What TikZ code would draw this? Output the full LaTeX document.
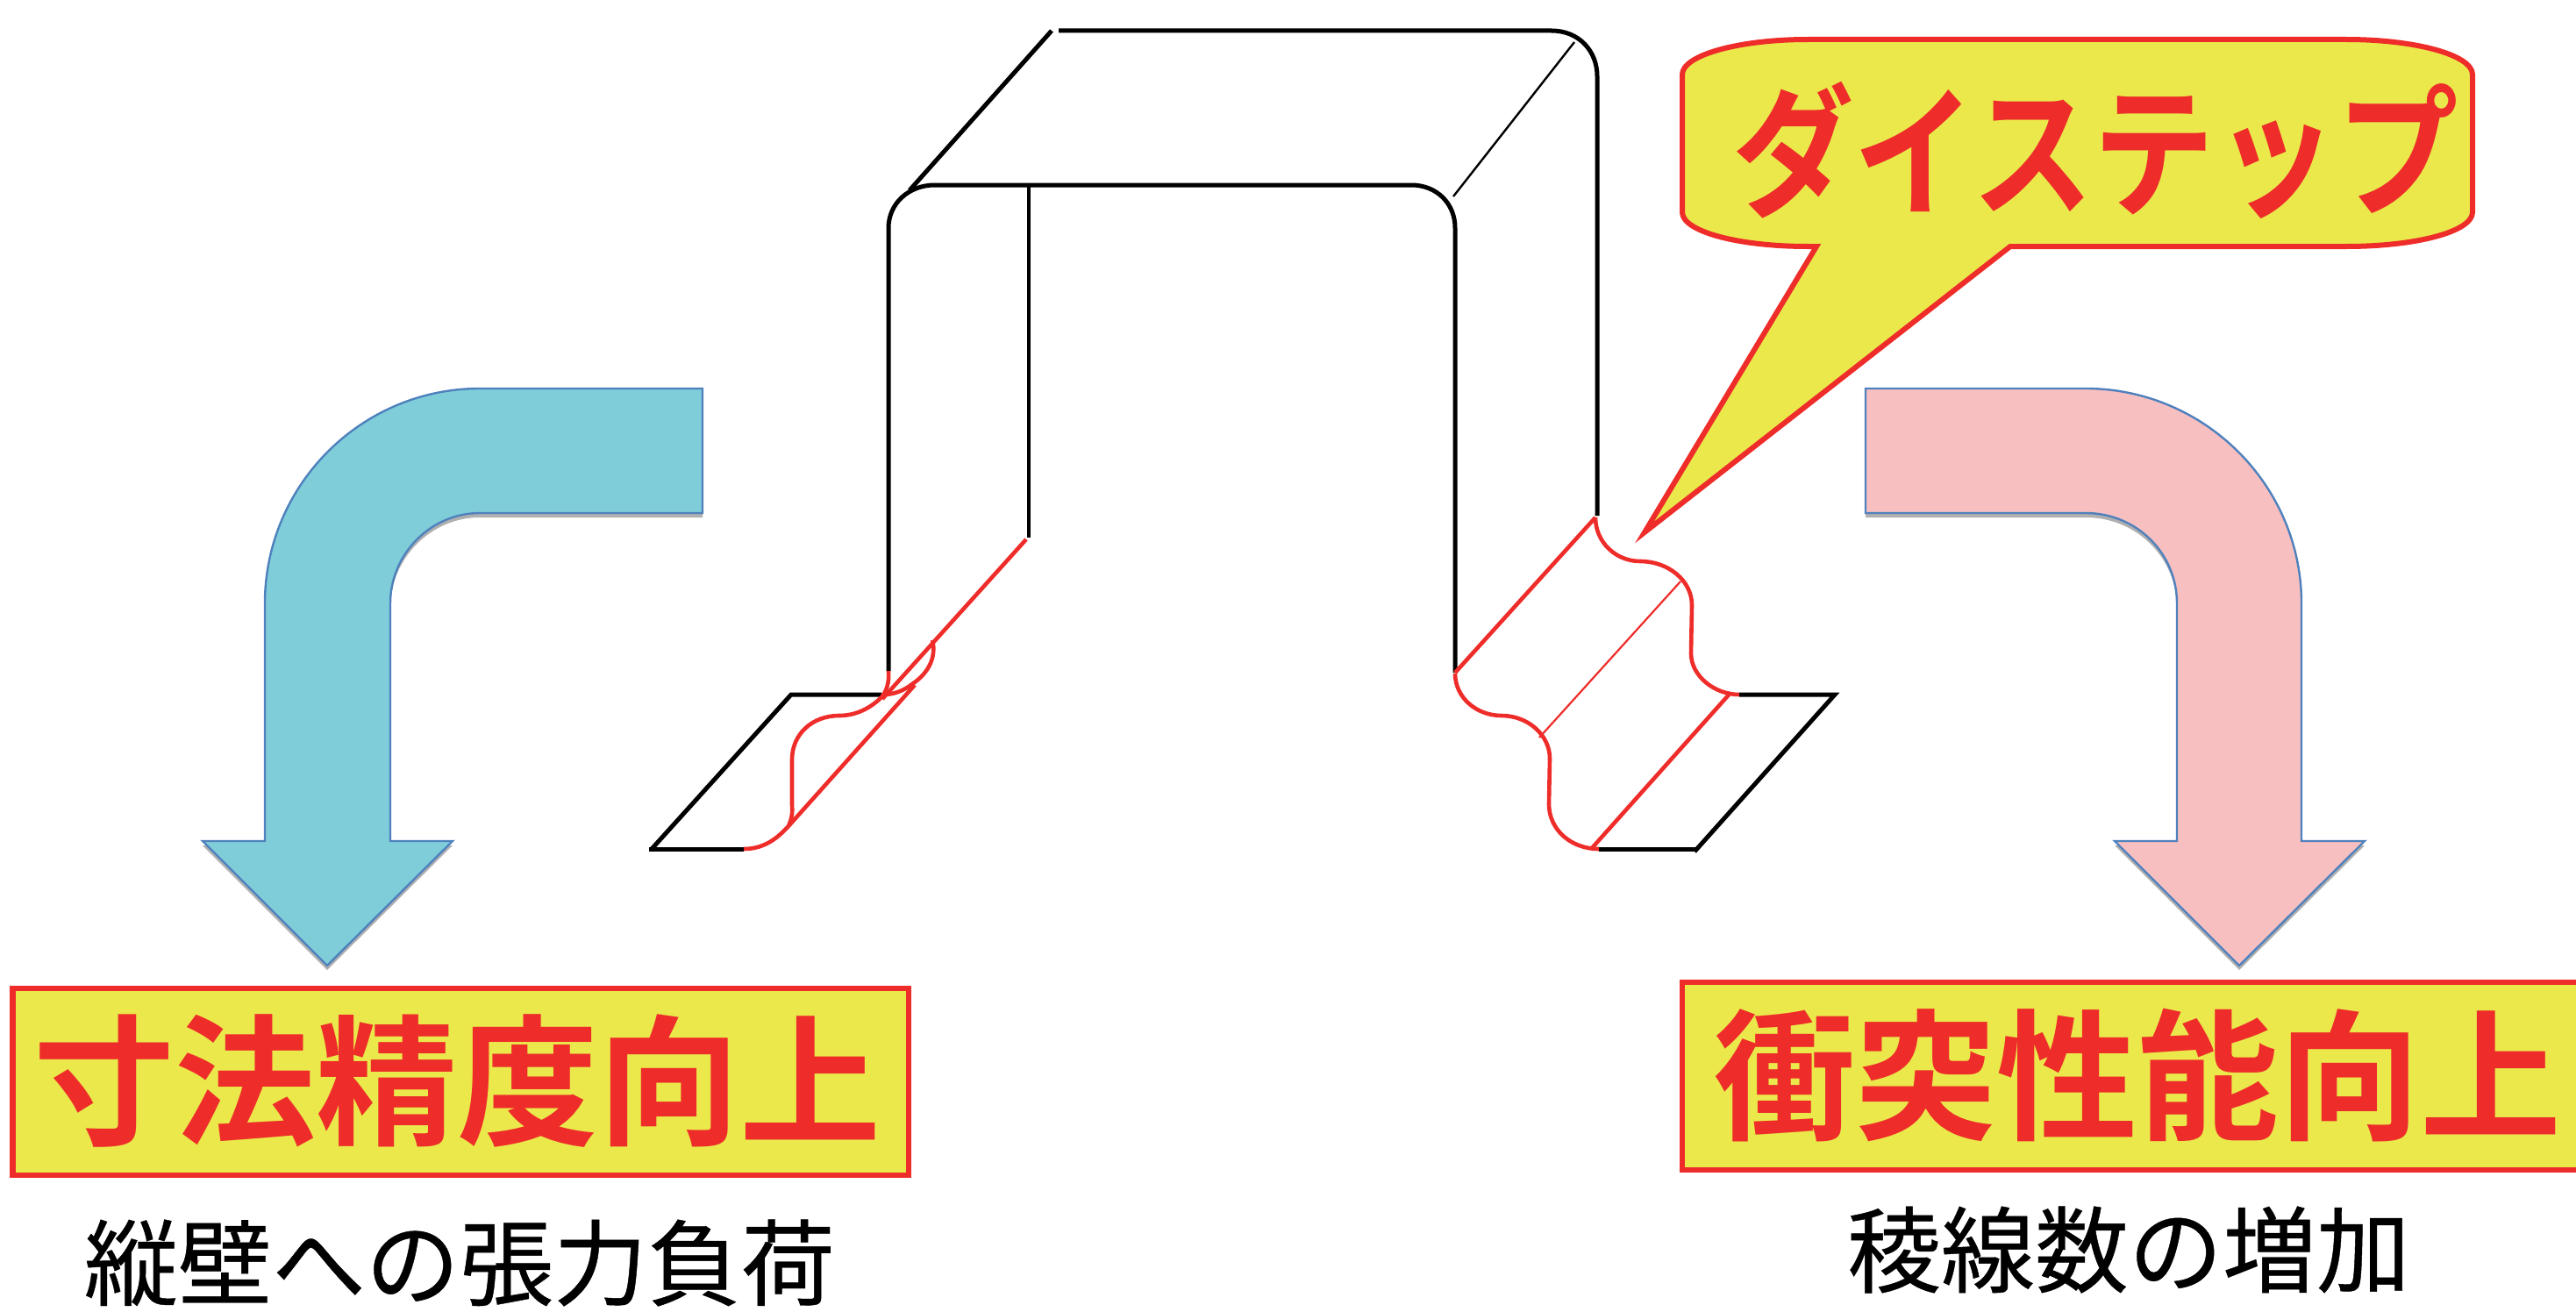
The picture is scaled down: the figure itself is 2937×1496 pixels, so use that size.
\documentclass[tikz,border=0pt]{standalone}
\usepackage{fontspec}
\usepackage{graphicx}
\newfontfamily\jpbold{Noto Sans CJK JP Bold}
\newfontfamily\jpreg[FakeBold=0.4]{Noto Sans CJK JP}
\definecolor{dred}{HTML}{EE2D2A}
\definecolor{dyellow}{HTML}{EBE84B}
\definecolor{dblue}{HTML}{7ECDD9}
\definecolor{dpink}{HTML}{F8BFC1}
\definecolor{dedge}{HTML}{4F81BD}
\definecolor{dshadow}{HTML}{B0B0B0}
\tikzset{
  blackline/.style={black,line width=5pt},
  thinblack/.style={black,line width=2.4pt},
  redline/.style={dred,line width=4.6pt},
  thinred/.style={dred,line width=2.2pt},
  arrowshape/.style={draw=dedge,line width=2.4pt,line join=miter},
  shadowshape/.style={fill=dshadow,draw=none},
  labelbox/.style={draw=dred,fill=dyellow,line width=6.5pt},
  redtext/.style={text=dred,inner sep=0pt,anchor=center},
  blacktext/.style={text=black,inner sep=0pt,anchor=center},
}
\begin{document}
\begin{tikzpicture}[x=1pt,y=-1pt]
\clip (0,0) rectangle (2937,1496);
% left arrow
\def\blueshape{(801,443) -- (547,443) .. controls (412,443) and (302,553) .. (302,688) -- (302,959) -- (231,959) -- (373,1101) -- (516,959) -- (445,959) -- (445,688) .. controls (445,632) and (491,585) .. (547,585) -- (801,585) -- cycle}
\begin{scope}[yshift=-5pt]
\fill[shadowshape] \blueshape;
\end{scope}
\draw[arrowshape,fill=dblue] \blueshape;
% right arrow
\def\pinkshape{(2127,443) -- (2378,443) .. controls (2513,443) and (2624,553) .. (2624,688) -- (2624,959) -- (2696,959) -- (2553,1101) -- (2411,959) -- (2482,959) -- (2482,688) .. controls (2482,631) and (2436,585) .. (2378,585) -- (2127,585) -- cycle}
\begin{scope}[yshift=-5pt]
\fill[shadowshape] \pinkshape;
\end{scope}
\draw[arrowshape,fill=dpink] \pinkshape;
% channel: black lines
\draw[blackline] (1199,35) -- (1037,217);
\draw[blackline] (1207,35) -- (1769,35) .. controls (1800,35) and (1821,58) .. (1821,87) -- (1821,588);
\draw[thinblack] (1795,48) -- (1657,224);
\draw[blackline] (1013,765) -- (1013,260) .. controls (1013,232) and (1036,211) .. (1066,211) -- (1609,211) .. controls (1638,211) and (1659,232) .. (1659,260) -- (1659,767);
\draw[black,line width=3.6pt] (1173,210) -- (1173,613);
\draw[blackline] (1005,792) -- (902,792) -- (743,968);
\draw[blackline] (740,968) -- (848,968);
\draw[blackline] (1983,792) -- (2092,792) -- (1932,971);
\draw[blackline] (1823,968) -- (1934,968);
% left step: red lines
\draw[redline] (1170,615) -- (1006,797);
\draw[redline] (899,942) -- (1043,781);
\draw[redline] (1013,765) .. controls (1014,778) and (1011,788) .. (1005,795) .. controls (992,808) and (975,816) .. (957,816) .. controls (925,816) and (903,838) .. (903,866) -- (903,918) .. controls (904,928) and (902,935) .. (899,942);
\draw[redline] (848,968) .. controls (872,968) and (887,955) .. (899,942);
\draw[redline] (1063,730) .. controls (1068,750) and (1058,768) .. (1040,780) .. controls (1030,788) and (1018,792) .. (1007,792);
% right step: red lines
\draw[redline] (1819,590) -- (1659,767);
\draw[redline] (1973,790) -- (1815,967);
\draw[thinred] (1916,663) -- (1755,841);
\draw[redline] (1819,590) .. controls (1819,618) and (1842,640) .. (1870,640) .. controls (1902,640) and (1929,662) .. (1929,690) -- (1928,745) .. controls (1928,771) and (1955,792) .. (1983,792);
\draw[redline] (1659,768) .. controls (1659,795) and (1683,816) .. (1712,816) .. controls (1742,816) and (1767,838) .. (1767,865) -- (1766,917) .. controls (1766,945) and (1790,968) .. (1823,968);
% bubble
\draw[dred,fill=dyellow,line width=6pt,miter limit=20]
  (1918,85) .. controls (1918,63) and (1982,45) .. (2061,45) -- (2675,45) .. controls (2755,45) and (2819,63) .. (2819,85)
  -- (2819,242) .. controls (2819,264) and (2755,281) .. (2675,281) -- (2292,281) -- (1875,607) -- (2071,281) -- (2061,281) .. controls (1982,281) and (1918,264) .. (1918,242) -- cycle;
\node[redtext] (dstep) at (2389,171) {\scalebox{0.85}[1]{\jpbold\fontsize{163}{163}\selectfont ダイステップ}};
% boxes
\draw[labelbox] (14.5,1127) rectangle (1036,1340);
\draw[labelbox] (1918,1120) rectangle (2960,1334);
\node[redtext] (ltitle) at (521,1233) {\jpbold\fontsize{161}{161}\selectfont 寸法精度向上};
\node[redtext] (rtitle) at (2437,1226) {\jpbold\fontsize{161}{161}\selectfont 衝突性能向上};
\node[blacktext] (lsub) at (524,1440) {\jpreg\fontsize{107}{107}\selectfont 縦壁への張力負荷};
\node[blacktext] (rsub) at (2427,1425) {\jpreg\fontsize{107}{107}\selectfont 稜線数の増加};
\end{tikzpicture}
\end{document}
